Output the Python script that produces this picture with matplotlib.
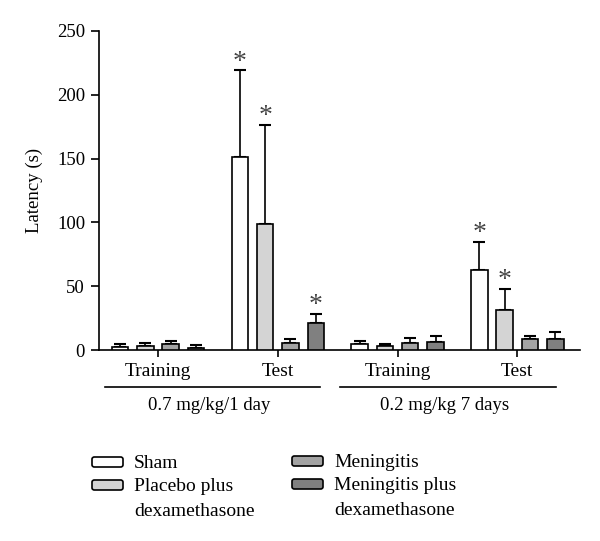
import numpy as np
import matplotlib
matplotlib.use("Agg")
import matplotlib.pyplot as plt
from matplotlib.patches import FancyBboxPatch

plt.rcParams["font.family"] = ["Liberation Serif", "DejaVu Serif"]

# data (latency in seconds, mean and upper error)
phases = ["Training", "Test", "Training", "Test"]
doses = ["0.7 mg/kg/1 day", "0.2 mg/kg 7 days"]
groups = ["Sham", "Placebo plus\ndexamethasone", "Meningitis", "Meningitis plus\ndexamethasone"]
colors = ["#ffffff", "#d4d4d4", "#a3a3a3", "#808080"]

sham = [2.5, 151, 4.5, 62.5]
sham_err = [2.2, 68, 2.5, 22]
placebo = [3.5, 99, 3.5, 31]
placebo_err = [2.0, 77, 1.5, 17]
mening = [5.0, 5.7, 5.5, 9.0]
mening_err = [2.0, 3.1, 4.0, 1.8]
mening_dex = [1.8, 21.4, 6.0, 8.3]
mening_dex_err = [2.2, 6.8, 5.0, 6.0]

# asterisks: (group index, phase index)
stars = [(0, 1), (1, 1), (3, 1), (0, 3), (1, 3)]

means = [sham, placebo, mening, mening_dex]
errs = [sham_err, placebo_err, mening_err, mening_dex_err]

fig = plt.figure(figsize=(6.0, 5.41), dpi=100)
ax = fig.add_axes([0.165, 0.353, 0.802, 0.59])

x = np.arange(len(phases))
offsets = [-0.317, -0.105, 0.105, 0.317]
width = 0.138

for i in range(4):
    ax.bar(x + offsets[i], means[i], width, color=colors[i], edgecolor="black",
           linewidth=1.2, zorder=3)
    ax.errorbar(x + offsets[i], means[i], yerr=[np.zeros(4), errs[i]], fmt="none",
                ecolor="black", elinewidth=1.2, capsize=4, capthick=1.5, zorder=2)

for g, p in stars:
    top = means[g][p] + errs[g][p]
    ax.annotate("*", (x[p] + offsets[g], top), xytext=(0, -3), textcoords="offset points",
                ha="center", va="bottom", fontsize=20, color="#444444")

ax.set_xlim(-0.493, 3.525)
ax.set_ylim(0, 250)
ax.set_yticks([0, 50, 100, 150, 200, 250])
ax.set_xticks(x)
ax.set_xticklabels(phases, fontsize=14)
ax.tick_params(axis="y", labelsize=13.5, length=6, width=1.2, pad=4)
ax.tick_params(axis="x", length=5, width=1.2, pad=4)
ax.set_ylabel("Latency (s)", fontsize=13.5, labelpad=10)
ax.spines["top"].set_visible(False)
ax.spines["right"].set_visible(False)
ax.spines["left"].set_linewidth(1.2)
ax.spines["bottom"].set_linewidth(1.2)

# dose brackets under the tick labels
trans = ax.get_xaxis_transform()
brackets = [(-0.443, 1.353), (1.52, 3.325)]
for (a, b), label in zip(brackets, doses):
    ax.plot([a, b], [-0.115, -0.115], color="black", lw=1.2, transform=trans, clip_on=False)
    ax.text((a + b) / 2 - 0.03, -0.175, label, transform=trans, ha="center", va="center",
            fontsize=13.5)

# legend, drawn by hand so the box lines up with the first text line
legend_pos = [(92, 462), (92, 485), (292, 461), (292, 484)]
W, H = 600.0, 541.0
for (px, py), c, lab in zip(legend_pos, colors, groups):
    box = FancyBboxPatch((px / W, 1 - (py + 5) / H), 31 / W, 10 / H,
                         boxstyle="round,pad=0,rounding_size=0.004",
                         transform=fig.transFigure, facecolor=c, edgecolor="black",
                         linewidth=1.2)
    fig.patches.append(box)
    fig.text((px + 42) / W, 1 - (py - 7) / H, lab, ha="left", va="top", fontsize=14,
             linespacing=1.6, transform=fig.transFigure)

fig.savefig("out.png", dpi=100)
